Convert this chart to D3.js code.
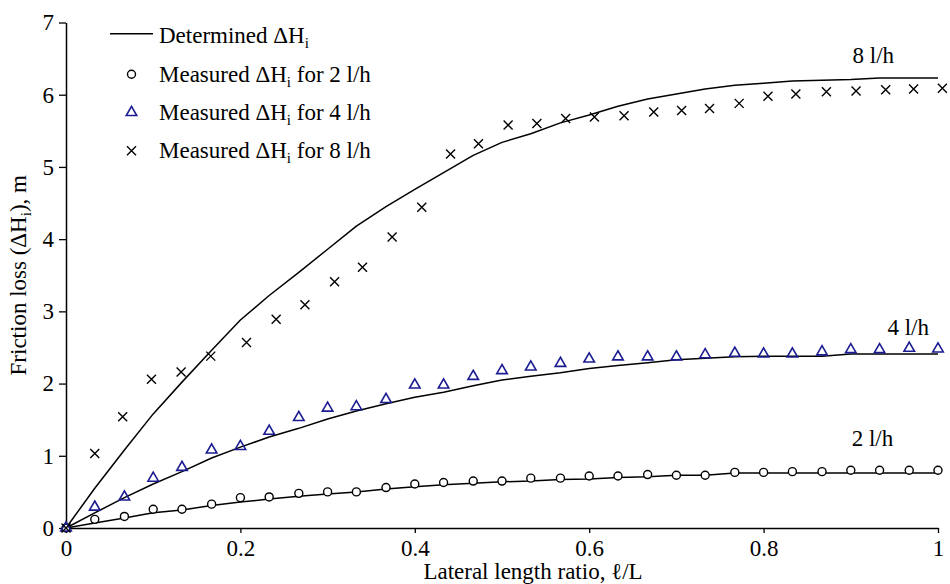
<!DOCTYPE html>
<html>
<head>
<meta charset="utf-8">
<script src="https://cdn.jsdelivr.net/npm/d3@7"></script>
<style>
  body { margin: 0; background: #fff; }
  svg { display: block; }
</style>
</head>
<body>
<svg id="chart" width="950" height="584"></svg>
<script>
// Lateral length ratio ℓ/L at each outlet
const ratio = [0, 0.033, 0.067, 0.1, 0.133, 0.167, 0.2, 0.233, 0.267, 0.3, 0.333,
               0.367, 0.4, 0.433, 0.467, 0.5, 0.533, 0.567, 0.6, 0.633, 0.667,
               0.7, 0.733, 0.767, 0.8, 0.833, 0.867, 0.9, 0.933, 0.967, 1];

// Determined friction loss ΔHi (m)
const determined2 = [0, 0.07, 0.14, 0.21, 0.25, 0.31, 0.36, 0.40, 0.44, 0.47, 0.50,
                     0.54, 0.57, 0.60, 0.62, 0.64, 0.65, 0.67, 0.68, 0.70, 0.71,
                     0.73, 0.73, 0.76, 0.76, 0.76, 0.76, 0.76, 0.76, 0.76, 0.76];
const determined4 = [0, 0.21, 0.42, 0.61, 0.78, 0.97, 1.12, 1.26, 1.38, 1.51, 1.62,
                     1.72, 1.81, 1.88, 1.97, 2.05, 2.10, 2.15, 2.21, 2.25, 2.29,
                     2.33, 2.35, 2.37, 2.38, 2.38, 2.38, 2.41, 2.41, 2.41, 2.41];
const determined8 = [0, 0.55, 1.08, 1.58, 2.02, 2.46, 2.88, 3.22, 3.54, 3.86, 4.18,
                     4.45, 4.69, 4.92, 5.16, 5.34, 5.46, 5.61, 5.72, 5.84, 5.94,
                     6.01, 6.08, 6.13, 6.16, 6.19, 6.20, 6.21, 6.23, 6.23, 6.23];

// Measured friction loss ΔHi (m)
const measured2 = [0, 0.12, 0.16, 0.26, 0.26, 0.33, 0.42, 0.43, 0.48, 0.50, 0.50,
                   0.56, 0.61, 0.63, 0.65, 0.65, 0.69, 0.69, 0.72, 0.72, 0.74,
                   0.73, 0.73, 0.77, 0.77, 0.78, 0.78, 0.80, 0.80, 0.80, 0.80];
const measured4 = [0, 0.29, 0.43, 0.69, 0.84, 1.08, 1.13, 1.34, 1.53, 1.66, 1.68,
                   1.78, 1.98, 1.98, 2.10, 2.18, 2.23, 2.28, 2.34, 2.37, 2.37,
                   2.37, 2.40, 2.42, 2.41, 2.41, 2.44, 2.47, 2.47, 2.49, 2.48];
const ratio8 = [0, 0.033, 0.065, 0.098, 0.132, 0.166, 0.207, 0.241, 0.274, 0.308, 0.340,
                0.374, 0.408, 0.441, 0.473, 0.507, 0.540, 0.573, 0.606, 0.640, 0.674,
                0.706, 0.738, 0.772, 0.805, 0.837, 0.872, 0.906, 0.940, 0.972, 1.005];
const measured8 = [0, 1.03, 1.54, 2.06, 2.16, 2.38, 2.57, 2.89, 3.09, 3.41, 3.61,
                   4.03, 4.44, 5.18, 5.32, 5.58, 5.60, 5.67, 5.69, 5.71, 5.76,
                   5.78, 5.81, 5.88, 5.98, 6.01, 6.04, 6.05, 6.07, 6.08, 6.09];

// Axis ticks
const xTicks = [0, 0.2, 0.4, 0.6, 0.8, 1];
const xTickLabels = ["0", "0.2", "0.4", "0.6", "0.8", "1"];
const yTicks = [0, 1, 2, 3, 4, 5, 6, 7];

// Curve tags and legend entries
const curveTags = ["8 l/h", "4 l/h", "2 l/h"];
const legendRates = ["2 l/h", "4 l/h", "8 l/h"];

const FONT = '"Liberation Serif", "Times New Roman", Times, serif';
const FS = 23;
const SUB = 15;
const BLUE = "#1c1c92";

const svg = d3.select("#chart");

const x = d3.scaleLinear().domain([0, 1]).range([66, 938]);
const y = d3.scaleLinear().domain([0, 7]).range([528, 22.5]);

// Axes
const xAxis = d3.axisBottom(x)
  .tickValues(xTicks)
  .tickFormat((d, i) => xTickLabels[i])
  .tickSize(5).tickSizeOuter(0).tickPadding(7);
const yAxis = d3.axisLeft(y)
  .tickValues(yTicks)
  .tickFormat(d3.format("d"))
  .tickSize(7).tickSizeOuter(0).tickPadding(5);

const gx = svg.append("g").attr("transform", `translate(0,${y(0)})`).call(xAxis);
const gy = svg.append("g").attr("transform", `translate(${x(0)},0)`).call(yAxis);
[gx, gy].forEach(g => {
  g.selectAll("path.domain").attr("stroke", "#000").attr("stroke-width", 1.5);
  g.selectAll(".tick line").attr("stroke", "#000").attr("stroke-width", 1.3);
  g.selectAll(".tick text")
    .attr("fill", "#000")
    .style("font-family", FONT)
    .style("font-size", FS + "px");
});

// Axis titles
svg.append("text")
  .attr("x", 533).attr("y", 579)
  .attr("text-anchor", "middle")
  .style("font-family", FONT).style("font-size", FS + "px")
  .text("Lateral length ratio, ℓ/L");

const yTitle = svg.append("text")
  .attr("transform", `translate(26,${(y(0) + y(7)) / 2}) rotate(-90)`)
  .attr("text-anchor", "middle")
  .style("font-family", FONT).style("font-size", FS + "px");
yTitle.append("tspan").text("Friction loss (ΔH");
yTitle.append("tspan").attr("dy", 5).style("font-size", SUB + "px").text("i");
yTitle.append("tspan").attr("dy", -5).text("), m");

// Determined curves
const line = d3.line().x(d => x(d[0])).y(d => y(d[1]));
[determined2, determined4, determined8].forEach(vals => {
  svg.append("path")
    .datum(vals.map((v, i) => [ratio[i], v]))
    .attr("d", line)
    .attr("fill", "none")
    .attr("stroke", "#000")
    .attr("stroke-width", 1.5)
    .attr("stroke-linejoin", "round");
});

// Marker shapes
const triPath = d3.symbol(d3.symbolTriangle, 48)();
const crossPath = "M-4.5,-4.5L4.5,4.5M-4.5,4.5L4.5,-4.5";

function drawCircle(g, cx, cy) {
  g.append("circle").attr("cx", cx).attr("cy", cy).attr("r", 4)
    .attr("fill", "#fff").attr("stroke", "#000").attr("stroke-width", 1.4);
}
function drawTriangle(g, cx, cy) {
  g.append("path").attr("d", triPath).attr("transform", `translate(${cx},${cy})`)
    .attr("fill", "none").attr("stroke", BLUE).attr("stroke-width", 1.6);
}
function drawCross(g, cx, cy) {
  g.append("path").attr("d", crossPath).attr("transform", `translate(${cx},${cy})`)
    .attr("fill", "none").attr("stroke", "#000").attr("stroke-width", 1.4);
}

const marks = svg.append("g");
measured2.forEach((v, i) => drawCircle(marks, x(ratio[i]), y(v)));
measured4.forEach((v, i) => drawTriangle(marks, x(ratio[i]), y(v)));
measured8.forEach((v, i) => drawCross(marks, x(ratio8[i]), y(v)));

// Curve tags (data coordinates of each tag's baseline start)
const tagPos = [[0.902, 6.44], [0.942, 2.67], [0.901, 1.13]];
curveTags.forEach((t, i) => {
  svg.append("text")
    .attr("x", x(tagPos[i][0])).attr("y", y(tagPos[i][1]))
    .style("font-family", FONT).style("font-size", FS + "px")
    .text(t);
});

// Legend
const legend = svg.append("g");
const rowBase = [43.3, 81.7, 120, 158.3];
const symX = 131.5, textX = 159;
legend.append("line")
  .attr("x1", 110).attr("x2", 153)
  .attr("y1", rowBase[0] - 9.5).attr("y2", rowBase[0] - 9.5)
  .attr("stroke", "#000").attr("stroke-width", 1.5);
const drawers = [drawCircle, drawTriangle, drawCross];
drawers.forEach((fn, i) => fn(legend, symX, rowBase[i + 1] - 7.5));

function legendText(base, pre, post) {
  const t = legend.append("text")
    .attr("x", textX).attr("y", base)
    .style("font-family", FONT).style("font-size", FS + "px");
  t.append("tspan").text(pre);
  t.append("tspan").attr("dy", 5).style("font-size", SUB + "px").text("i");
  if (post) t.append("tspan").attr("dy", -5).text(post);
}
legendText(rowBase[0], "Determined ΔH", null);
legendRates.forEach((r, i) => legendText(rowBase[i + 1], "Measured ΔH", " for " + r));
</script>
</body>
</html>
